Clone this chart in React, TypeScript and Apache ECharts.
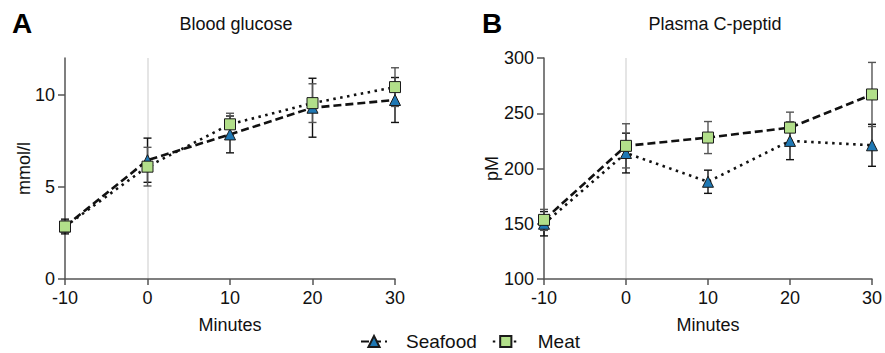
import React, { useEffect, useRef } from "react";
import * as echarts from "echarts";

const minutes = [-10, 0, 10, 20, 30];
const xTicks = [-10, 0, 10, 20, 30];

const glucoseSeafood = [2.85, 6.45, 7.85, 9.3, 9.72];
const glucoseSeafoodErr = [0.4, 1.2, 1.0, 1.6, 1.22];
const glucoseMeat = [2.85, 6.1, 8.4, 9.55, 10.42];
const glucoseMeatErr = [0.3, 1.05, 0.6, 1.05, 1.05];
const glucoseTicks = [0, 5, 10];

const cpepSeafood = [150, 214, 188, 225, 221];
const cpepSeafoodErr = [11, 18, 10.5, 17, 19];
const cpepMeat = [153.5, 220.5, 228, 237, 267];
const cpepMeatErr = [9.5, 20, 14.5, 14, 29];
const cpepTicks = [100, 150, 200, 250, 300];

const FONT = "'Liberation Sans', Arial, Helvetica, sans-serif";
const BLUE = "#1f78b4";
const GREEN = "#b2df8a";
const DASHED = [8, 4];
const DOTTED = [2.5, 4.5];

function pts(vals: number[]) {
  return minutes.map((m, i) => [m, vals[i]]);
}
function errs(vals: number[], e: number[]) {
  return minutes.map((m, i) => [m, vals[i] - e[i], vals[i] + e[i]]);
}

function errSeries(idx: number, data: number[][], color: string, withLine: boolean) {
  const s: any = {
    type: "custom",
    xAxisIndex: idx,
    yAxisIndex: idx,
    z: 1,
    silent: true,
    encode: { x: 0, y: [1, 2] },
    data,
    renderItem: (params: any, api: any) => {
      const x = api.value(0);
      const lo = api.value(1);
      const hi = api.value(2);
      const t = api.coord([x, hi]);
      const b = api.coord([x, lo]);
      const w = 4;
      const style = { stroke: color, lineWidth: 1.4 };
      return {
        type: "group",
        children: [
          { type: "line", shape: { x1: t[0], y1: t[1], x2: b[0], y2: b[1] }, style },
          { type: "line", shape: { x1: t[0] - w, y1: t[1], x2: t[0] + w, y2: t[1] }, style },
          { type: "line", shape: { x1: b[0] - w, y1: b[1], x2: b[0] + w, y2: b[1] }, style },
        ],
      };
    },
  };
  if (withLine) {
    s.markLine = {
      silent: true,
      symbol: "none",
      label: { show: false },
      lineStyle: { color: "#dcdcdc", width: 1.5, type: "solid" },
      data: [{ xAxis: 0 }],
      z: 0,
    };
  }
  return s;
}

function lineSeries(idx: number, name: string, vals: number[], dash: number[], sym: string) {
  const isTri = sym === "triangle";
  return {
    type: "line",
    name,
    xAxisIndex: idx,
    yAxisIndex: idx,
    z: 3,
    data: pts(vals),
    symbol: sym,
    symbolSize: 11,
    itemStyle: { color: isTri ? BLUE : GREEN, borderColor: "#1a1a1a", borderWidth: 1 },
    lineStyle: { color: "#111", width: 2.6, type: dash, cap: "butt" },
  };
}

function xAxis(idx: number) {
  return {
    type: "value",
    gridIndex: idx,
    min: -10,
    max: 30,
    interval: 10,
    name: "Minutes",
    nameLocation: "middle",
    nameGap: 37,
    nameMoveOverlap: false,
    nameTextStyle: { fontFamily: FONT, fontSize: 18, color: "#111" },
    axisLine: { show: true, onZero: false, lineStyle: { color: "#555", width: 1.5 } },
    axisTick: { show: true, length: 6, lineStyle: { color: "#555", width: 1.5 }, customValues: xTicks },
    axisLabel: { fontFamily: FONT, fontSize: 18, color: "#111", margin: 10, customValues: xTicks },
    splitLine: { show: false },
  };
}

function yAxis(idx: number, name: string, min: number, max: number, interval: number, ticks: number[], gap: number) {
  return {
    type: "value",
    gridIndex: idx,
    min,
    max,
    interval,
    name,
    nameLocation: "middle",
    nameGap: gap,
    nameMoveOverlap: false,
    nameTextStyle: { fontFamily: FONT, fontSize: 18, color: "#111" },
    axisLine: { show: true, onZero: false, lineStyle: { color: "#555", width: 1.5 } },
    axisTick: { show: true, length: 7, lineStyle: { color: "#555", width: 1.5 }, customValues: ticks },
    axisLabel: { fontFamily: FONT, fontSize: 18, color: "#111", margin: 10, customValues: ticks },
    splitLine: { show: false },
  };
}

export default function App() {
  const ref = useRef<HTMLDivElement>(null);
  useEffect(() => {
    if (!ref.current) return;
    document.body.style.margin = "0";
    const chart = echarts.init(ref.current, null, { renderer: "svg" });
    chart.setOption({
      animation: false,
      backgroundColor: "#fff",
      title: [
        { text: "A", left: 7, top: 4, textStyle: { fontFamily: FONT, fontSize: 28, fontWeight: "bold", color: "#000" } },
        { text: "B", left: 477, top: 4, textStyle: { fontFamily: FONT, fontSize: 28, fontWeight: "bold", color: "#000" } },
        { text: "Blood glucose", left: 231, textAlign: "center", top: 10, textStyle: { fontFamily: FONT, fontSize: 18, fontWeight: "normal", color: "#111" } },
        { text: "Plasma C-peptid", left: 710, textAlign: "center", top: 10, textStyle: { fontFamily: FONT, fontSize: 18, fontWeight: "normal", color: "#111" } },
      ],
      legend: {
        data: ["Seafood", "Meat"],
        left: 355,
        top: 327,
        itemWidth: 26,
        itemHeight: 14,
        itemGap: 15,
        selectedMode: false,
        textStyle: { fontFamily: FONT, fontSize: 19, color: "#111", padding: [0, 0, 0, 14] },
      },
      grid: [
        { left: 65, right: 490, top: 58, bottom: 74 },
        { left: 544, right: 11, top: 58, bottom: 74 },
      ],
      xAxis: [xAxis(0), xAxis(1)],
      yAxis: [
        yAxis(0, "mmol/l", 0, 12, 5, glucoseTicks, 32),
        yAxis(1, "pM", 100, 300, 50, cpepTicks, 43),
      ],
      series: [
        lineSeries(0, "Seafood", glucoseSeafood, DASHED, "triangle"),
        lineSeries(0, "Meat", glucoseMeat, DOTTED, "rect"),
        lineSeries(1, "Seafood", cpepSeafood, DOTTED, "triangle"),
        lineSeries(1, "Meat", cpepMeat, DASHED, "rect"),
        errSeries(0, errs(glucoseSeafood, glucoseSeafoodErr), "#111", true),
        errSeries(0, errs(glucoseMeat, glucoseMeatErr), "#555", false),
        errSeries(1, errs(cpepSeafood, cpepSeafoodErr), "#111", true),
        errSeries(1, errs(cpepMeat, cpepMeatErr), "#555", false),
      ],
    });
    return () => chart.dispose();
  }, []);
  return <div ref={ref} style={{ width: 885, height: 353 }} />;
}
